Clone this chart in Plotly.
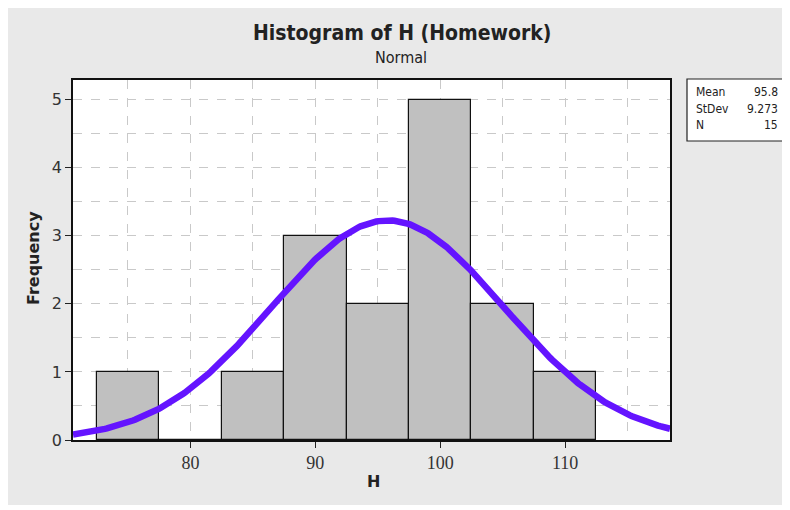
import numpy as np
import plotly.graph_objects as go

# histogram bins (midpoints) and counts
bin_mids = [75, 80, 85, 90, 95, 100, 105, 110]
counts = [1, 0, 1, 3, 2, 5, 2, 1]
bin_width = 5

# fitted normal summary
mean_h = 95.8
sd_h = 9.273
n_h = 15

stat_labels = ["Mean", "StDev", "N"]
stat_values = ["95.8", "9.273", "15"]

BG = "#e9e9e9"
OFF = 8  # page body margin
W, H = 790 - OFF, 510 - OFF
L, R, T, B = 73 - OFF, 670 - OFF, 80 - OFF, 440 - OFF


def px(x):
    # page pixel -> paper coordinate
    return (x - OFF - L) / (R - L)


def py(y):
    return (B - (y - OFF)) / (B - T)


x_range = [70.6, 118.4]
xs = np.linspace(x_range[0], x_range[1], 300)
ys = n_h * bin_width / (sd_h * np.sqrt(2 * np.pi)) * np.exp(-0.5 * ((xs - mean_h) / sd_h) ** 2)

fig = go.Figure()
fig.add_trace(go.Bar(
    x=bin_mids, y=counts, width=bin_width,
    marker=dict(color="#c0c0c0", line=dict(color="#111111", width=1.2)),
    hoverinfo="x+y",
))
fig.add_trace(go.Scatter(
    x=xs, y=ys, mode="lines",
    line=dict(color="#6414ff", width=6.5),
    hoverinfo="skip",
))

grid = dict(showgrid=True, gridcolor="#c9c9c9", griddash="dash", gridwidth=1)
fig.update_xaxes(
    range=x_range, tickvals=[80, 90, 100, 110],
    ticks="outside", ticklen=6, tickcolor="#222", tickwidth=1,
    tickfont=dict(family="Liberation Serif", size=18, color="#333"),
    showline=True, linecolor="#111", linewidth=1.5, mirror=True,
    zeroline=False, minor=dict(dtick=5, tick0=0, ticks="", **grid), **grid,
)
fig.update_yaxes(
    range=[0, 5.29], tickvals=[0, 1, 2, 3, 4, 5],
    ticks="outside", ticklen=6, tickcolor="#222", tickwidth=1,
    tickfont=dict(family="DejaVu Sans", size=16, color="#333"),
    showline=True, linecolor="#111", linewidth=1.5, mirror=True,
    zeroline=False, minor=dict(dtick=0.5, tick0=0, ticks="", **grid), **grid,
)

shapes = [
    # white strip under the grey panel
    dict(type="rect", xref="paper", yref="paper", x0=px(0), x1=px(800), y0=py(505), y1=py(520),
         fillcolor="white", line_width=0),
    # stats box
    dict(type="rect", xref="paper", yref="paper", x0=px(687), x1=px(785), y0=py(79), y1=py(141),
         fillcolor="white", line=dict(color="#222", width=1.2)),
]

cond = "DejaVu Sans Condensed, DejaVu Sans"


def label(text, x, y, size, family=cond, **kw):
    d = dict(text=text, x=px(x), y=py(y), xref="paper", yref="paper", showarrow=False,
             xanchor="center", yanchor="middle", font=dict(family=family, size=size, color="#222"))
    d.update(kw)
    return d


annotations = [
    label("<b>Histogram of H (Homework)</b>", 402, 33, 21),
    label("Normal", 401, 57, 16),
    label("<b>Frequency</b>", 33, 258, 16, family="DejaVu Sans", textangle=-90),
    label("<b>H</b>", 373, 481, 16, family="DejaVu Sans"),
]
for i, (lab, val) in enumerate(zip(stat_labels, stat_values)):
    yy = 92 + i * 16.5
    annotations.append(label(lab, 694, yy, 12, xanchor="left"))
    annotations.append(label(val, 780, yy, 12, xanchor="right"))

fig.update_layout(
    width=W, height=H,
    margin=dict(l=L, r=W - R, t=T, b=H - B),
    paper_bgcolor=BG, plot_bgcolor="white",
    showlegend=False, bargap=0,
    shapes=shapes, annotations=annotations,
)

fig.write_html("out.html")
